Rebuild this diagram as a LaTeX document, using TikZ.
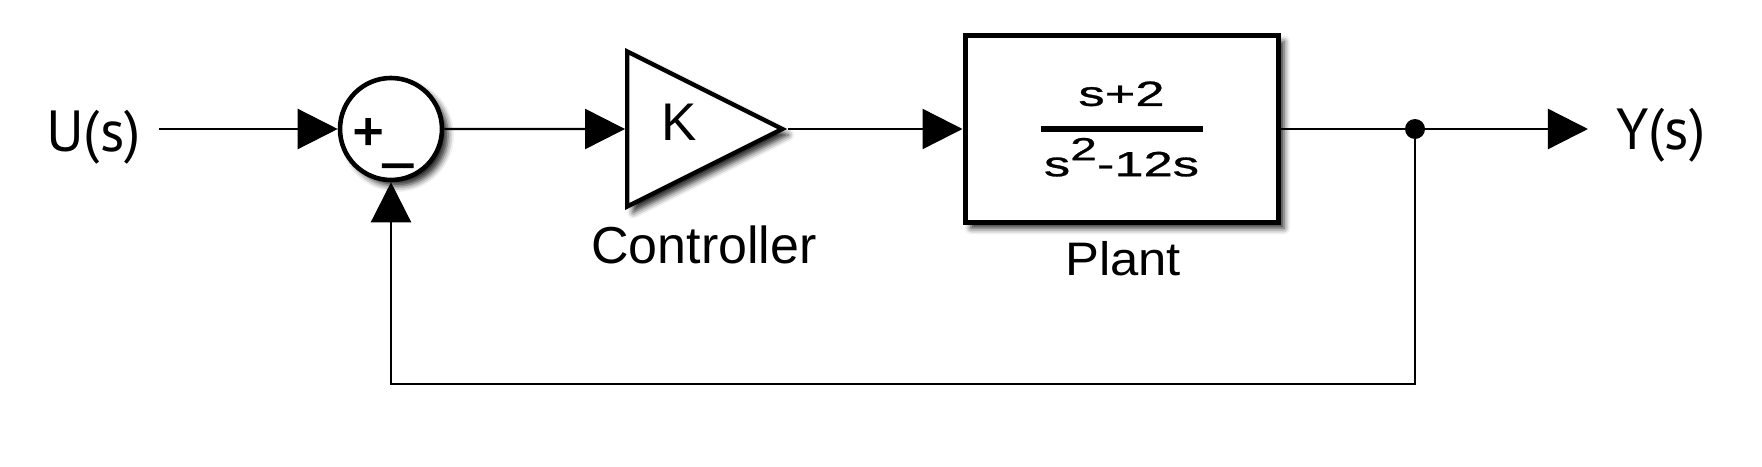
\documentclass[tikz,border=0pt]{standalone}
\usepackage{fontspec}
\setmainfont{Liberation Sans}
\newfontfamily\sigfont{PT Sans}
\newfontfamily\sumfont[FakeBold=3]{Liberation Sans}
\newfontfamily\tffont[FakeStretch=1.5,FakeBold=0.8]{Liberation Sans}
\newfontfamily\plantfont[FakeStretch=1.08]{Liberation Sans}
\usepackage{tikz}
\usetikzlibrary{arrows.meta,positioning,shapes.geometric,shadows.blur}

\begin{document}
\begin{tikzpicture}[
  x=0.5pt, y=-0.5pt,
  wire/.style={line width=1.2pt},
  arr/.style={wire,-{Triangle[length=20pt,width=20pt]}},
  softshadow/.style={blur shadow={shadow xshift=3pt,shadow yshift=-3pt,shadow blur radius=3pt,shadow opacity=85}},
  sig/.style={font=\sigfont\fontsize{29pt}{29pt}\selectfont,anchor=base},
  lbl/.style={font=\fontsize{26pt}{26pt}\selectfont,anchor=base},
  sumnode/.style={circle,draw,line width=2.3pt,fill=white,minimum size=51pt,inner sep=0pt,softshadow,
    font=\sumfont\fontsize{26pt}{26pt}\selectfont,text height=20pt,text depth=0pt},
  gain/.style={isosceles triangle,isosceles triangle stretches,draw,line width=2.2pt,fill=white,
    minimum width=77.5pt,minimum height=77.5pt,inner sep=0pt,softshadow,
    font=\fontsize{26.5pt}{26.5pt}\selectfont,text height=11pt,text depth=0pt},
  block/.style={rectangle,draw,line width=2.5pt,fill=white,minimum width=156.5pt,minimum height=93.25pt,
    inner sep=0pt,softshadow,font=\tffont\fontsize{17.5pt}{17.5pt}\selectfont},
]
\useasboundingbox (0,0) rectangle (1762,466);

\node[sumnode] (sum) at (391,129) {+\raisebox{-4pt}{\_}\kern8.4pt};
\node[gain,anchor=apex] (ctrl) at (788,129) {\kern3pt K};
\node[block] (plant) at (1121.5,129) {\vbox{%
  \hbox to 81pt{\hss s+2\hss}\kern10.1pt
  \hrule height 2.75pt
  \hbox to 81pt{\hss\vrule height 22.15pt width 0pt s\raisebox{8pt}{\fontsize{16pt}{16pt}\selectfont 2}-12s\hss}}};
\node[circle,fill,inner sep=0pt,minimum size=10pt] (dot) at (1415,129) {};

\node[sig,inner xsep=9pt] (u) at (93.5,151) {U(s)};
\node[sig,inner xsep=14pt] (y) at (1661,149) {Y(s)};
\node[lbl] (ctrllbl) at (704,263) {Controller};
\node[lbl,font=\plantfont\fontsize{23.5pt}{23.5pt}\selectfont] (plantlbl) at (1123,275) {Plant};
\coordinate (fb) at (391,384);

\draw[arr] (u.east |- sum) -- (sum);
\draw[arr] (sum) -- (ctrl);
\draw[arr] (ctrl) -- (plant);
\draw[wire] (plant) -- (dot);
\draw[arr] (dot) -- (y.west |- dot);
\draw[arr] (dot) |- (fb) -- (sum);
\end{tikzpicture}
\end{document}
